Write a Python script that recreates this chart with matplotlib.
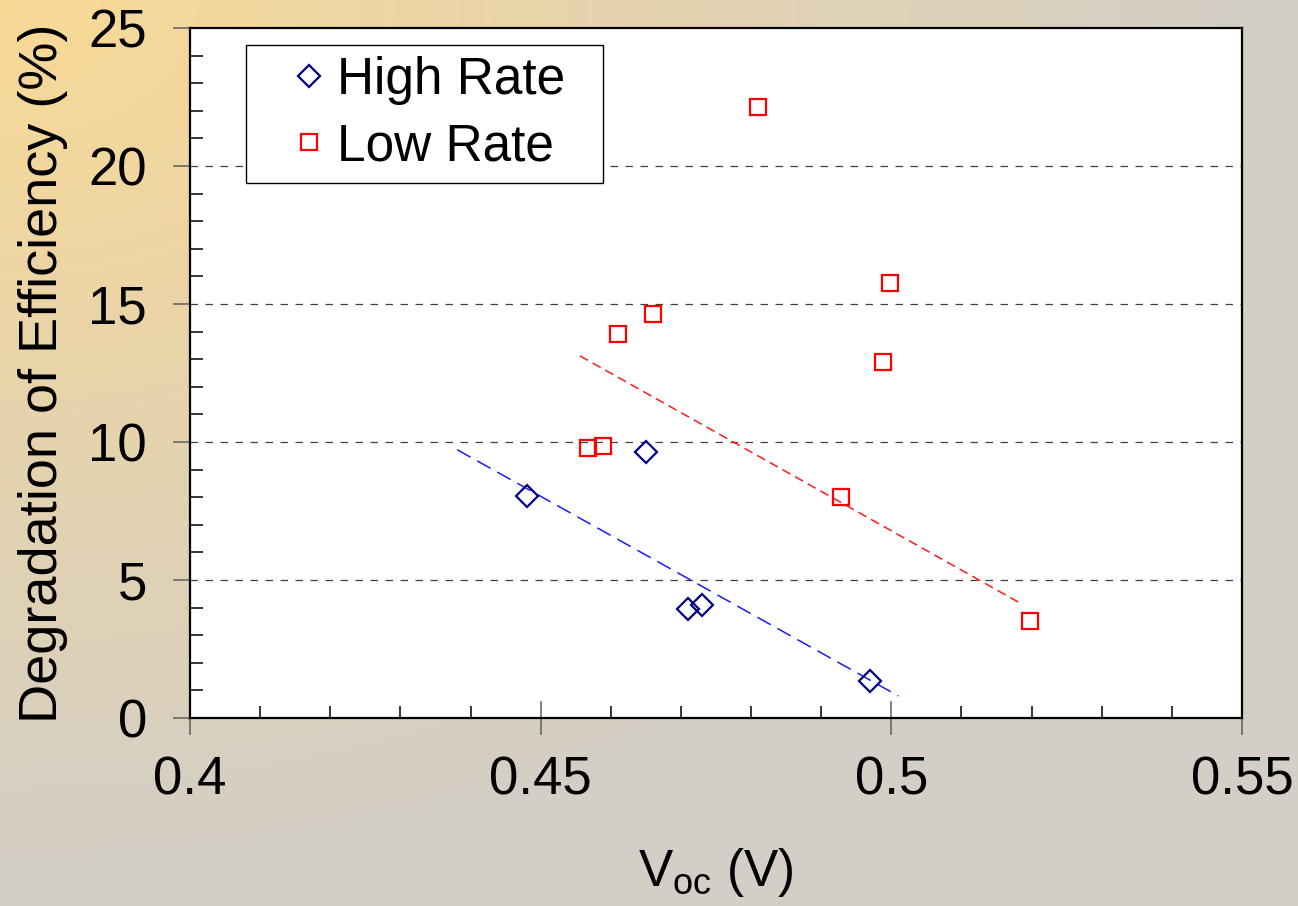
import numpy as np
import matplotlib
matplotlib.use("Agg")
import matplotlib.pyplot as plt
from matplotlib.ticker import MultipleLocator

plt.rcParams['font.family'] = ['Liberation Sans', 'DejaVu Sans']
plt.rcParams['mathtext.fontset'] = 'custom'
plt.rcParams['mathtext.rm'] = 'Liberation Sans'

# --- data ---
high_voc = [0.448, 0.465, 0.471, 0.473, 0.497]
high_deg = [8.05, 9.65, 3.95, 4.1, 1.35]

low_voc = [0.481, 0.4998, 0.4988, 0.466, 0.461, 0.4568, 0.4589, 0.4928, 0.5198]
low_deg = [22.15, 15.75, 12.9, 14.65, 13.9, 9.8, 9.85, 8.0, 3.5]

# trend lines (end points as drawn)
high_fit_x = [0.4381, 0.5010]
high_fit_y = [9.72, 0.80]
low_fit_x = [0.4556, 0.5186]
low_fit_y = [13.12, 4.13]

x_ticks = [0.4, 0.45, 0.5, 0.55]
x_tick_labels = ['0.4', '0.45', '0.5', '0.55']
y_ticks = [0, 5, 10, 15, 20, 25]

W, H = 1298, 906
fig = plt.figure(figsize=(W / 100, H / 100), dpi=100)

# background gradient: warm orange in the top-left fading to grey
bg = fig.add_axes([0, 0, 1, 1], zorder=-10)
yy, xx = np.mgrid[0:H, 0:W]
t = np.clip(np.sqrt((xx / 1250.0) ** 2 + (yy / 880.0) ** 2), 0, 1)[..., None]
c0 = np.array([249, 217, 149]) / 255.0
c1 = np.array([211, 206, 198]) / 255.0
bg.imshow(c0 * (1 - t) + c1 * t, aspect='auto', extent=[0, 1, 0, 1])
bg.axis('off')

ax = fig.add_axes([190 / W, 1 - 718 / H, (1242 - 190) / W, (718 - 28) / H])
ax.set_facecolor('white')

for y in y_ticks[1:-1]:
    ax.axhline(y, color='#404040', lw=0.9, ls=(0, (6, 6)), zorder=1)

ax.plot(high_fit_x, high_fit_y, color='#1a1aff', lw=1.1, ls=(0, (10, 5)), zorder=2)
ax.plot(low_fit_x, low_fit_y, color='#ff1a1a', lw=1.1, ls=(0, (6, 3.5)), zorder=2)

ax.plot(high_voc, high_deg, ls='none', marker='D', ms=11, mfc='none',
        mec='#000080', mew=1.6, label='High Rate', zorder=3)
ax.plot(low_voc, low_deg, ls='none', marker='s', ms=12, mfc='none',
        mec='#ff0000', mew=1.6, label='Low Rate', zorder=3)

ax.set_xlim(0.4, 0.55)
ax.set_ylim(0, 25)
ax.set_xticks(x_ticks)
ax.set_xticklabels(x_tick_labels)
ax.set_yticks(y_ticks)
ax.xaxis.set_minor_locator(MultipleLocator(0.01))
ax.yaxis.set_minor_locator(MultipleLocator(1))

ax.tick_params(axis='y', which='major', direction='out', length=12, width=1.1,
               color='#606060', labelsize=38, pad=19)
ax.tick_params(axis='y', which='minor', direction='in', length=9, width=1.1, color='black')
ax.tick_params(axis='x', which='major', direction='inout', length=24, width=1.1,
               color='#606060', labelsize=38, pad=15)
ax.tick_params(axis='x', which='minor', direction='in', length=8.5, width=1.1, color='black')

for s in ax.spines.values():
    s.set_linewidth(1.6)
    s.set_color('black')

ax.set_xlabel(r'V$_\mathregular{oc}$ (V)', fontsize=37)
ax.set_ylabel('Degradation of Efficiency (%)', fontsize=39)
ax.xaxis.set_label_coords(0.5, -0.185)
ax.yaxis.set_label_coords(-0.116, 0.5)

leg = ax.legend(loc='upper left',
                bbox_to_anchor=(56 / 1052, 1 - 17 / 690 - 0.01, 357 / 1052, 0.01),
                mode='expand', borderaxespad=0, fontsize=37, handlelength=2.03,
                handletextpad=-0.47, borderpad=0.22, labelspacing=0.33,
                fancybox=False, framealpha=1, edgecolor='black')
leg.get_frame().set_linewidth(1.0)

fig.savefig('out.png', dpi=100)
